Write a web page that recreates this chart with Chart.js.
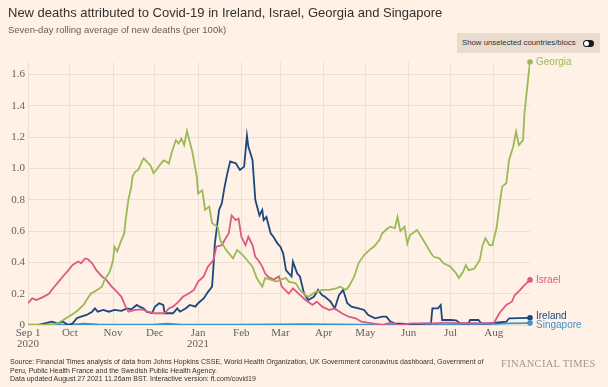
<!DOCTYPE html>
<html lang="en">
<head>
<meta charset="UTF-8">
<title>Covid-19 deaths</title>
<script src="https://cdn.jsdelivr.net/npm/chart.js"></script>
<style>
  body { margin: 0; background: #fff1e5; width: 608px; height: 387px; overflow: hidden; position: relative; font-family: "Liberation Sans", Arial, sans-serif; }
  #title { position: absolute; left: 8px; top: 5px; font-size: 13px; color: #33302e; white-space: nowrap; }
  #sub { position: absolute; left: 8px; top: 24px; font-size: 9.5px; color: #66605c; white-space: nowrap; }
  #btn { position: absolute; left: 457px; top: 33px; width: 143px; height: 20px; background: #e9dccf; font-size: 7.8px; color: #33302e; line-height: 20px; box-sizing: border-box; padding-left: 5px; white-space: nowrap; }
  #tog { position: absolute; right: 6px; top: 7px; width: 11px; height: 7px; border-radius: 4px; background: #1a1817; }
  #tog span { position: absolute; left: 1px; top: 1px; width: 5px; height: 5px; border-radius: 3px; background: #fff; }
  #wrap { position: absolute; left: 0; top: 0; width: 608px; height: 387px; }
  #src { position: absolute; left: 10px; top: 358px; font-size: 7px; line-height: 8.5px; color: #33302e; white-space: nowrap; }
  #ft { position: absolute; left: 501px; top: 358px; font-family: "Liberation Serif", serif; font-size: 10.5px; color: #a09892; letter-spacing: 0.3px; }
</style>
</head>
<body>
<div id="wrap"><canvas id="myChart"></canvas></div>
<div id="title">New deaths attributed to Covid-19 in Ireland, Israel, Georgia and Singapore</div>
<div id="sub">Seven-day rolling average of new deaths (per 100k)</div>
<div id="btn">Show unselected countries/blocs<div id="tog"><span></span></div></div>
<div id="src">Source: Financial Times analysis of data from Johns Hopkins CSSE, World Health Organization, UK Government coronavirus dashboard, Government of<br>Peru, Public Health France and the Swedish Public Health Agency.<br>Data updated August 27 2021 11.26am BST. Interactive version: ft.com/covid19</div>
<div id="ft">FINANCIAL TIMES</div>
<script>
// days counted from Sep 1 2020
const monthDays = [0, 30, 61, 91, 122, 153, 181, 212, 242, 273, 303, 334];
const monthLabels = [['Sep 1', '2020'], 'Oct', 'Nov', 'Dec', ['Jan', '2021'], 'Feb', 'Mar', 'Apr', 'May', 'Jun', 'Jul', 'Aug'];
const yTicks = [0, 0.2, 0.4, 0.6, 0.8, 1.0, 1.2, 1.4, 1.6];

const georgiaDays = [0,10,18,21,25,29,33,36,40,42,45,47,49,53,55,58,59,61,62,64,66,69,70,72,74,75,77,79,82,83,85,88,90,92,94,97,99,101,103,106,108,110,112,114,118,121,122,125,127,130,132,136,138,142,145,147,150,154,157,161,164,168,170,174,178,181,185,187,192,195,199,201,206,211,216,221,224,228,230,234,237,241,245,248,252,254,258,260,263,265,267,270,272,274,279,282,285,289,291,295,298,303,307,309,312,314,316,320,324,326,328,331,333,336,338,340,343,345,348,350,352,355,356,358,360];
const georgiaVals = [0,0,0.005,0.01,0.03,0.053,0.075,0.096,0.13,0.16,0.2,0.21,0.22,0.245,0.29,0.33,0.35,0.415,0.5,0.47,0.52,0.585,0.67,0.8,0.88,0.95,0.98,0.99,1.05,1.065,1.045,1.016,0.97,0.99,1.016,1.05,1.045,1.03,1.1,1.18,1.16,1.19,1.15,1.24,1.1,0.95,0.84,0.86,0.735,0.756,0.65,0.628,0.54,0.48,0.447,0.426,0.48,0.447,0.415,0.373,0.3,0.245,0.3,0.29,0.277,0.29,0.3,0.277,0.266,0.224,0.19,0.18,0.21,0.224,0.224,0.234,0.245,0.224,0.245,0.31,0.394,0.447,0.48,0.5,0.543,0.586,0.618,0.628,0.618,0.69,0.6,0.628,0.52,0.575,0.607,0.564,0.52,0.458,0.436,0.426,0.394,0.373,0.33,0.3,0.34,0.383,0.35,0.36,0.415,0.51,0.554,0.51,0.51,0.618,0.756,0.884,0.905,1.054,1.14,1.235,1.15,1.18,1.35,1.52,1.68];

const israelDays = [0,3,6,11,15,18,22,25,29,32,36,38,41,43,46,49,53,56,60,64,67,70,72,77,82,86,91,95,98,101,104,108,111,115,119,122,126,129,133,135,139,141,144,146,149,151,153,156,158,161,163,165,168,170,172,176,180,182,187,190,194,199,204,207,211,216,220,225,230,235,239,247,254,260,266,275,290,300,310,320,330,334,338,343,347,349,353,356,360];
const israelVals = [0.14,0.17,0.16,0.18,0.2,0.235,0.277,0.31,0.35,0.383,0.405,0.394,0.425,0.42,0.394,0.35,0.31,0.29,0.245,0.21,0.18,0.117,0.085,0.096,0.1,0.085,0.075,0.075,0.075,0.106,0.117,0.149,0.18,0.2,0.224,0.277,0.31,0.373,0.415,0.5,0.51,0.543,0.586,0.7,0.67,0.68,0.564,0.51,0.564,0.51,0.436,0.415,0.373,0.33,0.31,0.29,0.31,0.245,0.2,0.234,0.2,0.16,0.128,0.149,0.117,0.096,0.106,0.075,0.053,0.043,0.021,0.011,0,0.015,0,0.01,0.01,0.015,0.01,0.012,0.01,0.011,0.075,0.128,0.149,0.19,0.224,0.255,0.288];

const irelandDays = [0,7,12,17,21,25,29,32,35,38,42,46,48,50,54,58,62,67,71,74,78,80,83,85,89,91,94,97,98,104,107,109,113,116,120,122,126,129,132,133,134,137,139,141,143,145,149,152,155,157,158,161,163,166,168,169,171,174,176,179,181,183,185,187,189,190,193,195,198,201,205,208,211,213,217,220,223,226,229,232,237,241,244,249,254,257,260,263,275,289,290,294,296,297,303,307,310,316,317,323,325,330,343,345,360];
const irelandVals = [0,0,0.011,0.021,0.011,0.021,0,0.01,0.043,0.053,0.064,0.085,0.106,0.085,0.096,0.085,0.096,0.09,0.106,0.1,0.128,0.117,0.106,0.085,0.075,0.117,0.139,0.128,0.075,0.075,0.106,0.085,0.106,0.128,0.117,0.139,0.17,0.21,0.245,0.373,0.52,0.735,0.777,0.884,0.97,1.045,1.033,0.99,1.012,1.21,1.14,1.054,0.8,0.7,0.735,0.67,0.69,0.586,0.564,0.52,0.5,0.458,0.35,0.33,0.31,0.405,0.33,0.31,0.2,0.16,0.18,0.224,0.19,0.18,0.149,0.106,0.19,0.224,0.139,0.117,0.106,0.096,0.064,0.043,0.053,0.053,0.021,0.011,0.005,0.01,0.106,0.106,0.128,0.032,0.032,0.03,0.01,0.01,0.032,0.032,0.01,0.01,0.021,0.043,0.046];

const singaporeDays = [0,30,40,50,90,100,110,150,200,240,300,330,345,360];
const singaporeVals = [0.003,0.003,0.008,0.004,0.003,0.008,0.003,0.002,0.005,0.002,0.003,0.005,0.01,0.012];

const names = ['Georgia', 'Israel', 'Ireland', 'Singapore'];
const colors = ['#9bba56', '#dc5a84', '#1b477e', '#3d93cb'];
const labelNudge = [0, 0, -2, 2];

function pts(days, vals) {
  return days.map(function (d, i) { return { x: d, y: vals[i] }; });
}

const endLabels = {
  id: 'endLabels',
  afterDatasetsDraw: function (chart) {
    const ctx = chart.ctx;
    const xs = chart.scales.x, ys = chart.scales.y;
    ctx.save();
    chart.data.datasets.forEach(function (ds, i) {
      const last = ds.data[ds.data.length - 1];
      const px = xs.getPixelForValue(last.x);
      const py = ys.getPixelForValue(last.y);
      ctx.fillStyle = colors[i];
      ctx.beginPath();
      ctx.arc(px, py, 2.8, 0, Math.PI * 2);
      ctx.fill();
      ctx.font = '10px "Liberation Sans", Arial, sans-serif';
      ctx.textBaseline = 'middle';
      ctx.fillText(names[i], px + 6, py + labelNudge[i]);
    });
    ctx.restore();
  }
};

new Chart(document.getElementById('myChart'), {
  type: 'line',
  data: {
    datasets: [
      { label: names[0], data: pts(georgiaDays, georgiaVals), borderColor: colors[0] },
      { label: names[1], data: pts(israelDays, israelVals), borderColor: colors[1] },
      { label: names[2], data: pts(irelandDays, irelandVals), borderColor: colors[2] },
      { label: names[3], data: pts(singaporeDays, singaporeVals), borderColor: colors[3] }
    ]
  },
  options: {
    responsive: true,
    maintainAspectRatio: false,
    animation: false,
    parsing: false,
    elements: {
      line: { borderWidth: 1.8, tension: 0, fill: false },
      point: { radius: 0 }
    },
    layout: { padding: { left: 0, right: 78, top: 62, bottom: 32 } },
    plugins: { legend: { display: false }, tooltip: { enabled: false } },
    scales: {
      x: {
        type: 'linear',
        min: 0,
        max: 360,
        afterBuildTicks: function (s) { s.ticks = monthDays.map(function (v) { return { value: v }; }); },
        afterFit: function (s) { s.height = 30; },
        grid: { color: '#ecdfd3', drawTicks: false },
        border: { display: false },
        ticks: {
          autoSkip: false,
          maxRotation: 0,
          padding: 3,
          color: '#66605c',
          font: { family: '"Liberation Serif", serif', size: 11, lineHeight: 0.95 },
          callback: function (v, i) { return monthLabels[i]; }
        }
      },
      y: {
        min: 0,
        max: 1.68,
        afterBuildTicks: function (s) { s.ticks = yTicks.map(function (v) { return { value: v }; }); },
        afterFit: function (s) { s.width = 28; },
        grid: { color: '#ecdfd3', drawTicks: false },
        border: { display: false },
        ticks: {
          padding: 3,
          color: '#66605c',
          font: { family: '"Liberation Serif", serif', size: 11 },
          callback: function (v) { return v === 0 ? '0' : v.toFixed(1); }
        }
      }
    }
  },
  plugins: [endLabels]
});
</script>
</body>
</html>
